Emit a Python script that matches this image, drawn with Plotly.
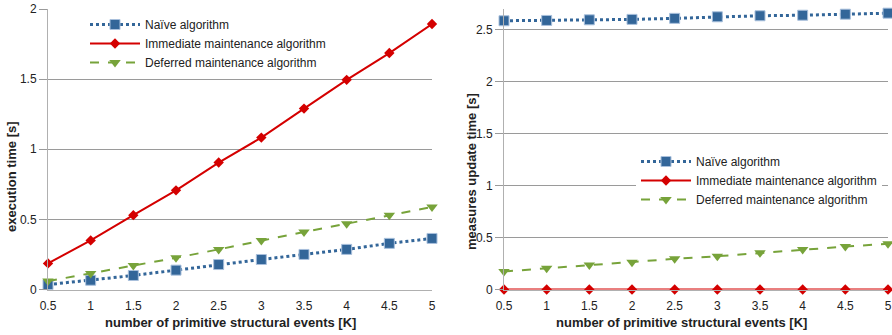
import plotly.graph_objects as go
from plotly.subplots import make_subplots

x_events = [0.5, 1, 1.5, 2, 2.5, 3, 3.5, 4, 4.5, 5]

# Left chart: execution time [s]
exec_naive = [0.035, 0.066, 0.10, 0.138, 0.178, 0.214, 0.25, 0.286, 0.329, 0.364]
exec_immediate = [0.186, 0.35, 0.53, 0.707, 0.905, 1.083, 1.29, 1.495, 1.686, 1.893]
exec_deferred = [0.06, 0.114, 0.171, 0.226, 0.286, 0.35, 0.41, 0.469, 0.53, 0.588]

# Right chart: measures update time [s]
upd_naive = [2.587, 2.59, 2.596, 2.60, 2.61, 2.625, 2.635, 2.64, 2.65, 2.66]
upd_immediate = [0, 0, 0, 0, 0, 0, 0, 0, 0, 0]
upd_deferred = [0.173, 0.205, 0.237, 0.263, 0.295, 0.32, 0.353, 0.385, 0.413, 0.44]

series_names = ["Naïve algorithm", "Immediate maintenance algorithm", "Deferred maintenance algorithm"]
x_ticks = [0.5, 1, 1.5, 2, 2.5, 3, 3.5, 4, 4.5, 5]
x_tick_text = ["0.5", "1", "1.5", "2", "2.5", "3", "3.5", "4", "4.5", "5"]
left_y_ticks = [0, 0.5, 1, 1.5, 2]
right_y_ticks = [0, 0.5, 1, 1.5, 2, 2.5]

BLUE = "#336699"
RED = "#d40000"
GREEN = "#77a33a"
FONT = "Liberation Sans, Arial, sans-serif"

fig = make_subplots(rows=1, cols=2)

def add_series(col, ys, legend):
    styles = [
        dict(line=dict(color=BLUE, width=3, dash="dot"),
             marker=dict(symbol="square", size=10, color=BLUE, line=dict(color="#a9c0dc", width=1))),
        dict(line=dict(color=RED, width=2, dash="solid"),
             marker=dict(symbol="diamond", size=8, color=RED)),
        dict(line=dict(color=GREEN, width=2, dash="dash"),
             marker=dict(symbol="triangle-down", size=10, color=GREEN)),
    ]
    for name, y, st in zip(series_names, ys, styles):
        fig.add_trace(go.Scatter(x=x_events, y=y, mode="lines+markers", name=name,
                                 line=st["line"], marker=st["marker"], cliponaxis=False,
                                 legend=legend), row=1, col=col)

add_series(1, [exec_naive, exec_immediate, exec_deferred], "legend")
add_series(2, [upd_naive, upd_immediate, upd_deferred], "legend2")

ydom = [(335 - 289.5) / 335, (335 - 9) / 335]

axis_common = dict(showline=True, linecolor="#b0b0b0", linewidth=1, mirror=False, automargin=False,
                   tickfont=dict(family=FONT, size=12, color="#222"), zeroline=False)

fig.update_xaxes(range=[0.5, 5], tickvals=x_ticks, ticktext=x_tick_text, showgrid=False,
                 ticks="", ticklabelstandoff=5, **axis_common)
fig.update_yaxes(showgrid=True, gridcolor="#9a9a9a", gridwidth=1, ticks="outside",
                 ticklen=8, tickcolor="#9a9a9a", **axis_common)

title_font = dict(family=FONT, size=13, color="#222")

fig.update_layout(
    width=892, height=335,
    margin=dict(l=0, r=0, t=0, b=0, autoexpand=False),
    paper_bgcolor="white", plot_bgcolor="white",
    font=dict(family=FONT, size=12, color="#222"),
    xaxis=dict(domain=[48 / 892, 432 / 892]),
    xaxis2=dict(domain=[504 / 892, 888 / 892]),
    yaxis=dict(domain=ydom, range=[0, 2], tickvals=left_y_ticks, ticktext=["0", "0.5", "1", "1.5", "2"]),
    yaxis2=dict(domain=ydom, range=[0, 2.7], tickvals=right_y_ticks,
                ticktext=["0", "0.5", "1", "1.5", "2", "2.5"]),
    legend=dict(x=85 / 892, y=1 - 10 / 335, xanchor="left", yanchor="top",
                bgcolor="rgba(255,255,255,0)", font=dict(family=FONT, size=12, color="#222"),
                itemwidth=50, tracegroupgap=0),
    legend2=dict(x=636 / 892, y=1 - 147 / 335, xanchor="left", yanchor="top",
                 bgcolor="white", font=dict(family=FONT, size=12, color="#222"),
                 itemwidth=50, tracegroupgap=0),
    annotations=[
        dict(text="<b>execution time [s]</b>", x=11 / 892, y=1 - 177 / 335, xref="paper", yref="paper",
             xanchor="center", yanchor="middle", textangle=-90, showarrow=False, font=title_font),
        dict(text="<b>measures update time [s]</b>", x=471 / 892, y=1 - 172 / 335, xref="paper", yref="paper",
             xanchor="center", yanchor="middle", textangle=-90, showarrow=False, font=title_font),
        dict(text="<b>number of primitive structural events [K]</b>", x=230 / 892, y=1 - 322 / 335,
             xref="paper", yref="paper", xanchor="center", yanchor="middle", showarrow=False, font=title_font),
        dict(text="<b>number of primitive structural events [K]</b>", x=681 / 892, y=1 - 322 / 335,
             xref="paper", yref="paper", xanchor="center", yanchor="middle", showarrow=False, font=title_font),
    ],
)

fig.write_html("out.html", config={"displayModeBar": False},
               post_script="document.body.style.margin='0px';")
